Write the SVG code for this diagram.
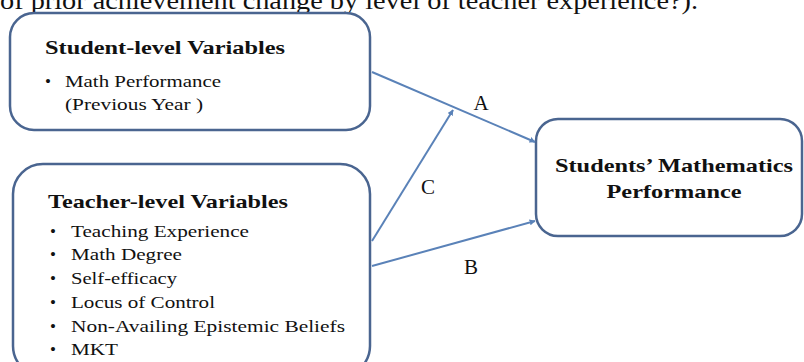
<svg xmlns="http://www.w3.org/2000/svg" width="804" height="362" viewBox="0 0 804 362">
<defs>
<style>
.box{fill:#fff;stroke:#4a6590;stroke-width:2.5}
.con{stroke:#5a82b8;stroke-width:2;fill:none;marker-end:url(#ah)}
.t{font-family:"Liberation Serif","Times New Roman",serif;fill:#111}
.b{font-weight:bold}
</style>
<marker id="ah" viewBox="0 0 10 10" refX="9" refY="5" markerWidth="6" markerHeight="6" orient="auto" markerUnits="userSpaceOnUse">
<path d="M0,0 L10,5 L0,10 z" fill="#5a82b8"/>
</marker>
</defs>
<rect width="804" height="362" fill="#fff"/>
<text class="t" x="0" y="9" font-size="26" textLength="698" lengthAdjust="spacingAndGlyphs">of prior achievement change by level of teacher experience?).</text>
<g id="student">
<rect class="box" x="10" y="13" width="360" height="117" rx="24"/>
<text class="t b" x="45" y="54" font-size="19" textLength="240" lengthAdjust="spacingAndGlyphs">Student-level Variables</text>
<text class="t" x="45" y="87" font-size="17">•</text>
<text class="t" x="65" y="87" font-size="17" textLength="156" lengthAdjust="spacingAndGlyphs">Math Performance</text>
<text class="t" x="65" y="110" font-size="17" textLength="138" lengthAdjust="spacingAndGlyphs">(Previous Year )</text>
</g>
<g id="teacher">
<rect class="box" x="13" y="164" width="357" height="212" rx="30"/>
<text class="t b" x="48" y="208" font-size="19" textLength="240" lengthAdjust="spacingAndGlyphs">Teacher-level Variables</text>
<g class="t" font-size="17" lengthAdjust="spacingAndGlyphs">
<text x="50" y="237">•</text><text x="71" y="237" textLength="178" lengthAdjust="spacingAndGlyphs">Teaching Experience</text>
<text x="50" y="260">•</text><text x="71" y="260" textLength="111" lengthAdjust="spacingAndGlyphs">Math Degree</text>
<text x="50" y="284">•</text><text x="71" y="284" textLength="106" lengthAdjust="spacingAndGlyphs">Self-efficacy</text>
<text x="50" y="308">•</text><text x="71" y="308" textLength="144" lengthAdjust="spacingAndGlyphs">Locus of Control</text>
<text x="50" y="332">•</text><text x="71" y="332" textLength="274" lengthAdjust="spacingAndGlyphs">Non-Availing Epistemic Beliefs</text>
<text x="50" y="355">•</text><text x="71" y="355" textLength="47" lengthAdjust="spacingAndGlyphs">MKT</text>
</g>
</g>
<g id="outcome">
<rect class="box" x="536" y="119" width="266" height="117" rx="22"/>
<text class="t b" x="674" y="172" font-size="19" text-anchor="middle" textLength="238" lengthAdjust="spacingAndGlyphs">Students’ Mathematics</text>
<text class="t b" x="674" y="198" font-size="19" text-anchor="middle" textLength="135" lengthAdjust="spacingAndGlyphs">Performance</text>
</g>
<g id="connectors">
<line class="con" x1="372" y1="72" x2="535" y2="142"/>
<line class="con" x1="372" y1="241" x2="453" y2="110"/>
<line class="con" x1="372" y1="266" x2="535" y2="221"/>
<text class="t" x="481" y="110" font-size="21" text-anchor="middle">A</text>
<text class="t" x="428" y="194" font-size="21" text-anchor="middle">C</text>
<text class="t" x="471" y="274" font-size="21" text-anchor="middle">B</text>
</g>
</svg>
